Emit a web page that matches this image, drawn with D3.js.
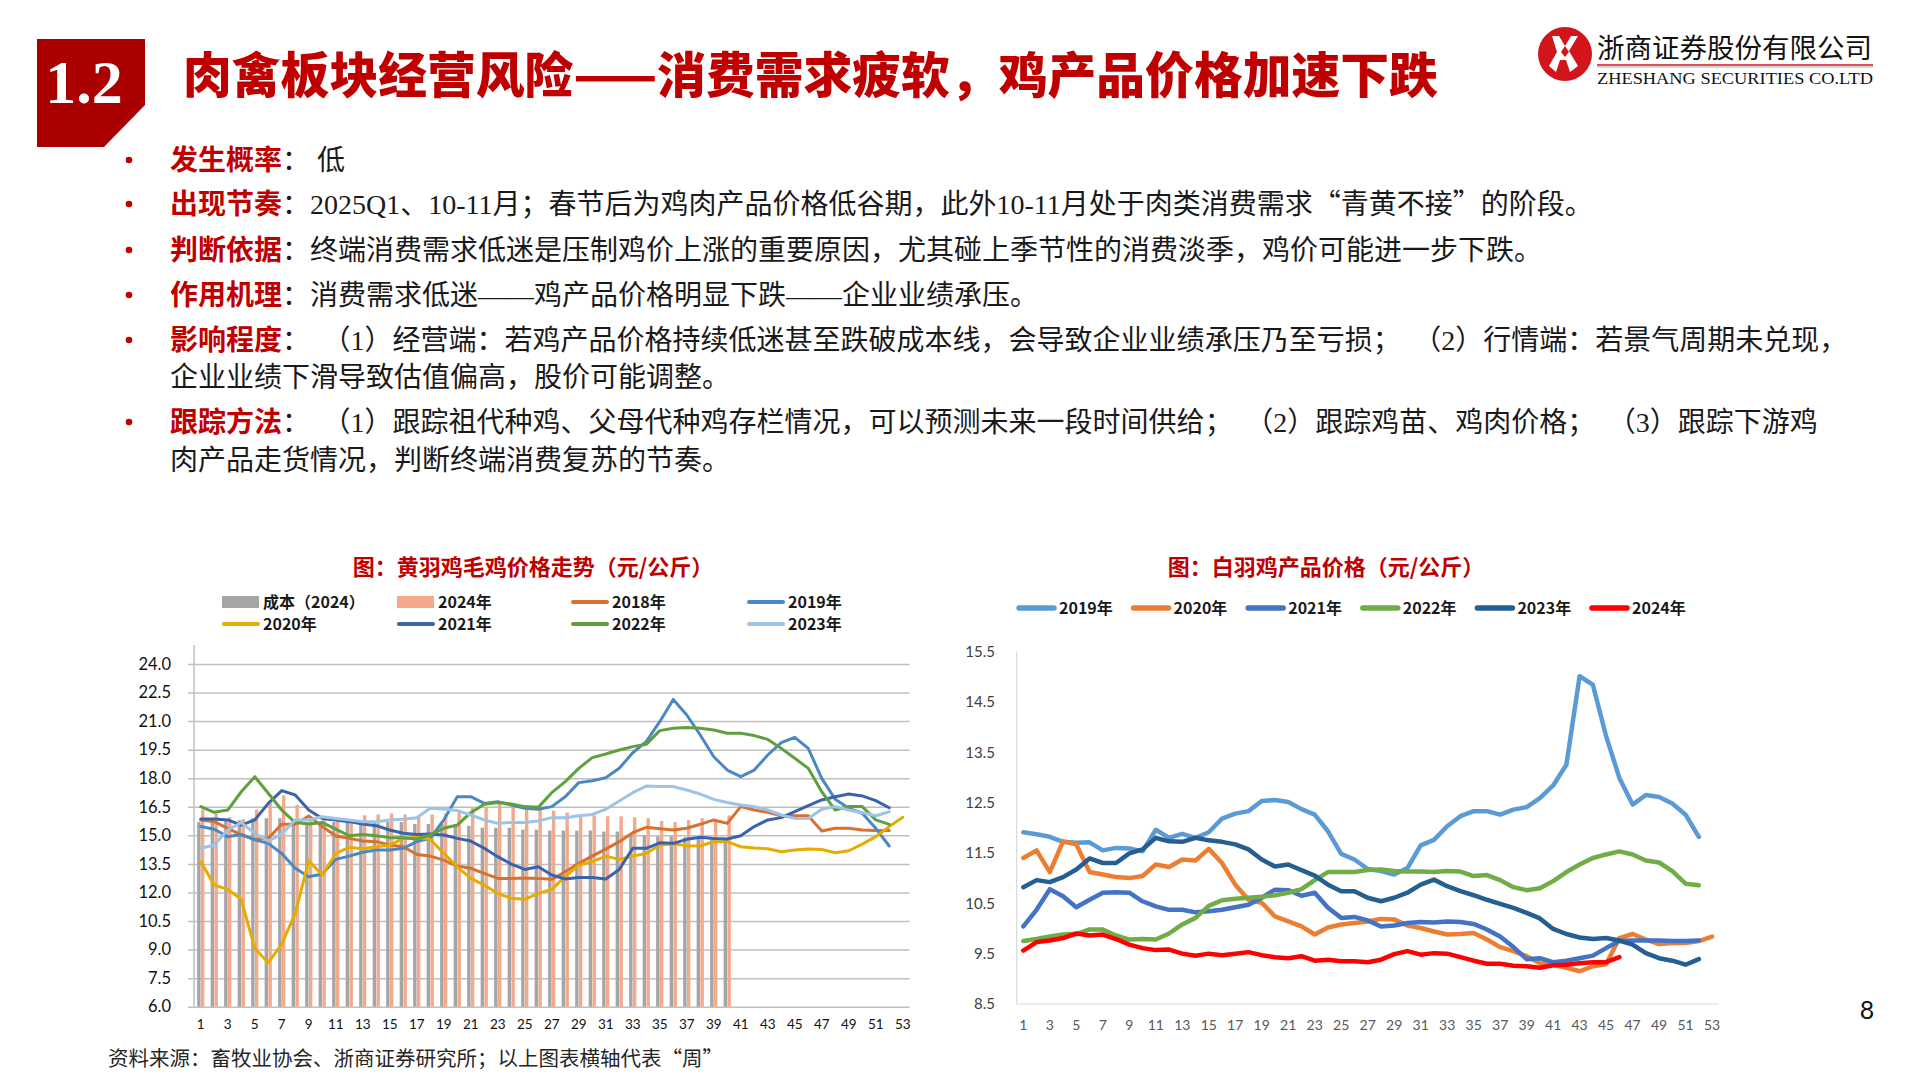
<!DOCTYPE html>
<html><head><meta charset="utf-8">
<script src="https://cdn.jsdelivr.net/npm/d3@7"></script>
<style>
html,body{margin:0;padding:0;background:#fff;}
svg{display:block;}
</style></head>
<body>
<svg id="slide" width="1920" height="1080"></svg>
<script>
// ---------- DATA ----------
const weeks = [1,2,3,4,5,6,7,8,9,10,11,12,13,14,15,16,17,18,19,20,21,22,23,24,25,26,27,28,29,30,31,32,33,34,35,36,37,38,39,40,41,42,43,44,45,46,47,48,49,50,51,52,53];
const weekTickLabels = [1,3,5,7,9,11,13,15,17,19,21,23,25,27,29,31,33,35,37,39,41,43,45,47,49,51,53];

// Left chart: 黄羽鸡毛鸡价格走势
const leftYTicks = [6.0,7.5,9.0,10.5,12.0,13.5,15.0,16.5,18.0,19.5,21.0,22.5,24.0];
const cost2024 = [15.7,15.7,15.8,15.8,15.9,15.9,15.9,15.8,15.7,15.7,15.7,15.7,15.7,15.7,15.7,15.7,15.6,15.6,15.6,15.5,15.5,15.4,15.4,15.4,15.3,15.3,15.25,15.25,15.25,15.25,15.2,15.2,15.0,15.0,14.95,14.95,14.9,14.9,14.8,14.75];
const price2024 = [16.35,16.15,15.95,15.85,16.35,16.7,17.1,16.6,16.0,15.9,15.85,15.85,16.05,16.1,16.15,16.1,16.0,16.1,16.15,16.3,16.45,16.5,16.65,16.55,16.4,16.4,16.3,16.2,16.1,16.05,16.0,16.0,15.95,15.9,15.75,15.7,15.8,15.9,15.8,16.05];
const yellow2018 = [15.8,15.72,15.37,15.02,14.79,14.84,15.58,15.58,16.02,15.46,14.97,14.84,14.7,14.67,14.49,14.4,14.0,13.91,13.7,13.39,13.27,13.0,12.74,12.74,12.76,12.74,12.69,13.09,13.53,13.91,14.28,14.67,15.14,15.42,15.35,15.28,15.37,15.58,15.81,15.63,16.51,16.33,16.21,16.03,16.03,16.03,15.23,15.37,15.37,15.28,15.25,15.25];
const yellow2019 = [15.46,15.32,14.93,15.05,14.76,14.58,14.05,13.27,12.83,12.97,13.74,13.91,14.11,14.23,14.23,14.32,14.67,14.84,15.81,17.03,17.03,16.68,16.77,16.59,16.42,16.37,16.51,17.03,17.77,17.87,18.03,18.52,19.34,19.92,20.97,22.14,21.32,20.27,19.13,18.43,18.08,18.43,19.22,19.87,20.15,19.57,17.99,16.89,16.42,16.16,15.37,14.44];
const yellow2020 = [13.62,12.39,12.16,11.64,9.06,8.31,9.29,10.9,13.67,12.92,14.05,14.37,14.3,14.4,14.49,14.84,14.9,14.8,14.05,13.35,12.74,12.39,11.95,11.69,11.64,11.95,12.16,12.83,13.44,13.62,13.91,13.74,13.91,14.05,14.49,14.54,14.46,14.44,14.67,14.67,14.4,14.33,14.3,14.14,14.23,14.28,14.26,14.09,14.19,14.54,14.93,15.46,15.95];
const yellow2021 = [15.86,15.86,15.81,15.54,15.81,16.68,17.35,17.12,16.33,15.89,15.81,15.72,15.6,15.51,15.28,15.11,15.05,15.07,15.02,14.84,14.7,14.32,13.88,13.49,13.21,13.35,12.92,12.71,12.79,12.79,12.71,13.21,14.32,14.32,14.61,14.58,14.79,14.9,14.84,14.81,14.98,15.46,15.81,15.93,16.24,16.56,16.86,17.03,17.17,17.07,16.82,16.45];
const yellow2022 = [16.51,16.21,16.33,17.29,18.08,17.21,16.33,15.67,15.6,15.67,15.33,14.98,15.05,14.98,14.88,14.88,14.81,15.02,15.37,15.54,16.19,16.63,16.73,16.65,16.51,16.47,17.24,17.82,18.52,19.08,19.27,19.48,19.66,19.78,20.5,20.62,20.67,20.62,20.53,20.36,20.36,20.24,20.04,19.57,19.05,18.52,17.29,16.33,16.51,16.51,15.81,15.58];
const yellow2023 = [14.32,14.49,15.28,15.67,15.11,14.7,15.07,15.81,15.81,15.98,15.89,15.81,15.72,15.72,15.81,15.84,15.93,16.42,16.38,16.3,16.07,15.81,15.63,15.68,15.68,15.75,15.93,15.93,16.03,16.1,16.37,16.8,17.24,17.59,17.56,17.56,17.38,17.17,16.89,16.73,16.59,16.51,16.33,16.07,15.89,15.89,16.37,16.51,16.33,16.19,16.03,16.24];

// Right chart: 白羽鸡产品价格
const rightYTicks = [8.5,9.5,10.5,11.5,12.5,13.5,14.5,15.5];
const white2019 = [11.91,11.87,11.82,11.72,11.7,11.71,11.55,11.6,11.59,11.53,11.96,11.8,11.88,11.8,11.91,12.18,12.28,12.33,12.53,12.55,12.51,12.37,12.26,11.93,11.48,11.37,11.18,11.14,11.07,11.2,11.65,11.76,12.03,12.23,12.33,12.33,12.26,12.36,12.41,12.59,12.84,13.25,15.01,14.84,13.82,12.99,12.46,12.65,12.61,12.48,12.26,11.82];
const white2020 = [11.4,11.55,11.12,11.73,11.67,11.12,11.07,11.02,11.0,11.04,11.27,11.22,11.37,11.35,11.58,11.3,10.87,10.57,10.51,10.24,10.14,10.04,9.88,10.02,10.08,10.11,10.14,10.19,10.18,10.06,10.01,9.94,9.88,9.89,9.91,9.78,9.63,9.55,9.45,9.31,9.28,9.22,9.15,9.25,9.29,9.81,9.89,9.78,9.69,9.71,9.71,9.75,9.84];
const white2021 = [10.04,10.37,10.78,10.64,10.42,10.57,10.71,10.72,10.71,10.54,10.44,10.37,10.37,10.32,10.34,10.37,10.42,10.47,10.61,10.77,10.76,10.65,10.71,10.41,10.21,10.23,10.16,10.04,10.06,10.11,10.13,10.12,10.14,10.13,10.09,9.98,9.84,9.63,9.39,9.41,9.33,9.36,9.41,9.46,9.61,9.75,9.76,9.76,9.76,9.75,9.75,9.76];
const white2022 = [9.75,9.79,9.84,9.88,9.89,9.98,9.98,9.86,9.78,9.79,9.78,9.9,10.08,10.21,10.45,10.56,10.59,10.61,10.63,10.66,10.71,10.78,10.96,11.12,11.12,11.12,11.16,11.17,11.14,11.13,11.13,11.12,11.14,11.13,11.04,11.06,10.96,10.82,10.76,10.8,10.94,11.12,11.27,11.4,11.47,11.53,11.47,11.35,11.31,11.14,10.89,10.86];
const white2023 = [10.82,10.96,10.92,11.02,11.17,11.39,11.3,11.3,11.49,11.57,11.8,11.73,11.72,11.8,11.75,11.72,11.67,11.57,11.37,11.23,11.27,11.16,11.05,10.87,10.74,10.74,10.61,10.54,10.61,10.71,10.87,10.97,10.84,10.74,10.66,10.57,10.49,10.41,10.31,10.2,9.99,9.89,9.82,9.79,9.81,9.76,9.68,9.51,9.41,9.36,9.28,9.39];
const white2024 = [9.56,9.73,9.76,9.81,9.9,9.86,9.88,9.79,9.68,9.61,9.57,9.58,9.5,9.46,9.5,9.47,9.5,9.53,9.47,9.43,9.41,9.45,9.36,9.38,9.35,9.35,9.33,9.38,9.49,9.55,9.48,9.51,9.5,9.43,9.36,9.3,9.3,9.26,9.25,9.22,9.27,9.28,9.31,9.33,9.33,9.43];

// ---------- TEXT ----------
const slideTitle = "肉禽板块经营风险——消费需求疲软，鸡产品价格加速下跌";
const SP = "\u00A0\u2009";
// each line: array of [text, useCJKFont]
const bullets = [
  {label:"发生概率", lines:[[["： 低",false]]]},
  {label:"出现节奏", lines:[[["：2025Q1、10-11月；春节后为鸡肉产品价格低谷期，此外10-11月处于肉类消费需求",false],["“",true],["青黄不接",false],["”",true],["的阶段。",false]]]},
  {label:"判断依据", lines:[[["：终端消费需求低迷是压制鸡价上涨的重要原因，尤其碰上季节性的消费淡季，鸡价可能进一步下跌。",false]]]},
  {label:"作用机理", lines:[[["：消费需求低迷——鸡产品价格明显下跌——企业业绩承压。",false]]]},
  {label:"影响程度", lines:[[["："+SP+"（1）经营端：若鸡产品价格持续低迷甚至跌破成本线，会导致企业业绩承压乃至亏损；"+SP+"（2）行情端：若景气周期未兑现，",false]],[["企业业绩下滑导致估值偏高，股价可能调整。",false]]]},
  {label:"跟踪方法", lines:[[["："+SP+"（1）跟踪祖代种鸡、父母代种鸡存栏情况，可以预测未来一段时间供给；"+SP+"（2）跟踪鸡苗、鸡肉价格；"+SP+"（3）跟踪下游鸡",false]],[["肉产品走货情况，判断终端消费复苏的节奏。",false]]]}
];

const svg = d3.select("#slide");
const CJK = "'Noto Sans CJK SC','Noto Sans',sans-serif";
const RED = "#C00000";

// ---------- HEADER ----------
svg.append("path")
  .attr("d","M37,39 L145,39 L145,105 L104,147 L37,147 Z")
  .attr("fill","#AA0000");
svg.append("text").attr("x",84).attr("y",103).attr("text-anchor","middle")
  .attr("font-family","'Liberation Serif',serif").attr("font-weight","bold")
  .attr("font-size",62).attr("fill","#fff").text("1.2");
svg.append("text").attr("x",183).attr("y",93)
  .attr("font-family",CJK).attr("font-weight",900).attr("font-size",48.8)
  .attr("fill",RED).text(slideTitle);

// logo
const logo = svg.append("g");
logo.append("circle").attr("cx",1565).attr("cy",54).attr("r",27).attr("fill","#D2151B");
logo.append("path").attr("d","M1552,36 L1559,36 L1565,46 L1571,36 L1578,36 L1569,51 L1578,66 L1570,72 L1566,60 L1560,60 L1556,72 L1549,66 L1557,52 Z")
  .attr("fill","#fff");
logo.append("path").attr("d","M1561,52 L1565,46 L1569,52 L1565,57 Z").attr("fill","#D2151B");
logo.append("text").attr("x",1597).attr("y",58).attr("font-family",CJK).attr("font-size",27)
  .attr("fill","#111").attr("textLength",275).attr("lengthAdjust","spacingAndGlyphs").text("浙商证券股份有限公司");
logo.append("line").attr("x1",1597).attr("x2",1873).attr("y1",65).attr("y2",65).attr("stroke","#C8161D").attr("stroke-width",1.6);
logo.append("line").attr("x1",1597).attr("x2",1873).attr("y1",67).attr("y2",67).attr("stroke","#999").attr("stroke-width",0.8);
logo.append("text").attr("x",1597).attr("y",84).attr("font-family","'Liberation Serif',serif").attr("font-size",17)
  .attr("fill","#111").attr("textLength",276).attr("lengthAdjust","spacingAndGlyphs").text("ZHESHANG SECURITIES CO.LTD");

// ---------- BULLETS ----------
const lineYs = [[170],[214],[260],[305],[350,387],[432,470]];
const bodyFont = "'Liberation Serif','Noto Sans CJK SC',serif";
bullets.forEach((b,i)=>{
  const y0 = lineYs[i][0];
  svg.append("circle").attr("cx",129).attr("cy",y0-10).attr("r",3.3).attr("fill",RED);
  b.lines.forEach((ln,j)=>{
    const t = svg.append("text").attr("x",170).attr("y",lineYs[i][j])
      .attr("font-size",28).attr("fill","#1a1a1a").attr("font-family",bodyFont)
      .style("white-space","pre");
    if(j===0){
      t.append("tspan").attr("font-family",CJK).attr("font-weight","bold").attr("fill",RED).text(b.label);
    }
    ln.forEach(seg=>{
      const ts = t.append("tspan").text(seg[0]);
      if(seg[1]) ts.attr("font-family",CJK);
    });
  });
});

// ---------- LEFT CHART ----------
const L = {left:194, right:909.5, top:664, bottom:1006.7};
const xL = d3.scaleBand().domain(weeks).range([L.left,L.right]).paddingInner(0).paddingOuter(0);
const yL = d3.scaleLinear().domain([6,24]).range([L.bottom,L.top]);

svg.append("text").attr("x",533).attr("y",575).attr("text-anchor","middle")
  .attr("font-family",CJK).attr("font-weight","bold").attr("font-size",22).attr("fill",RED)
  .text("图：黄羽鸡毛鸡价格走势（元/公斤）");

// gridlines
const gridL = svg.append("g").attr("transform",`translate(${L.left},0)`)
  .call(d3.axisLeft(yL).tickValues(leftYTicks).tickSize(-(L.right-L.left)).tickFormat(""));
gridL.select(".domain").remove();
gridL.selectAll(".tick line").attr("stroke","#BFBFBF").attr("stroke-width",1.5).attr("x1",-6);

// bars
const sub = d3.scaleBand().domain(["cost","price"]).range([-3.6,3.6]);
const barG = svg.append("g");
barG.selectAll("rect.cost").data(cost2024).join("rect").attr("class","cost")
  .attr("x",(d,i)=>xL(weeks[i])+xL.bandwidth()/2+sub("cost"))
  .attr("width",sub.bandwidth()-0.2)
  .attr("y",d=>yL(d)).attr("height",d=>yL(6)-yL(d)).attr("fill","#A5A5A5");
barG.selectAll("rect.price").data(price2024).join("rect").attr("class","price")
  .attr("x",(d,i)=>xL(weeks[i])+xL.bandwidth()/2+sub("price")+0.2)
  .attr("width",sub.bandwidth()-0.2)
  .attr("y",d=>yL(d)).attr("height",d=>yL(6)-yL(d)).attr("fill","#F2A98C");

// y axis line
svg.append("line").attr("x1",L.left).attr("x2",L.left).attr("y1",645).attr("y2",L.bottom)
  .attr("stroke","#BFBFBF").attr("stroke-width",1.5);

const leftSeries = [
  {name:"2018年", data:yellow2018, color:"#D9702F"},
  {name:"2019年", data:yellow2019, color:"#4B88C2"},
  {name:"2020年", data:yellow2020, color:"#E6AC00"},
  {name:"2021年", data:yellow2021, color:"#3A63AC"},
  {name:"2022年", data:yellow2022, color:"#5FA03E"},
  {name:"2023年", data:yellow2023, color:"#9DC3E6"}
];
const lineL = d3.line().x((d,i)=>xL(weeks[i])+xL.bandwidth()/2).y(d=>yL(d));
leftSeries.forEach(s=>{
  svg.append("path").datum(s.data).attr("d",lineL).attr("fill","none")
    .attr("stroke",s.color).attr("stroke-width",3).attr("stroke-linejoin","round").attr("stroke-linecap","round");
});

// axes labels
const yAxL = svg.append("g").attr("transform",`translate(${L.left-23},0)`)
  .call(d3.axisLeft(yL).tickValues(leftYTicks).tickSize(0).tickPadding(0).tickFormat(d3.format(".1f")));
yAxL.select(".domain").remove();
yAxL.selectAll("text").attr("font-family","Lato,'Open Sans',sans-serif").attr("font-size",16.5).attr("fill","#111");
const xAxL = svg.append("g").attr("transform",`translate(0,${1019})`)
  .call(d3.axisBottom(xL).tickValues(weekTickLabels).tickSize(0).tickPadding(0));
xAxL.select(".domain").remove();
xAxL.selectAll("text").attr("font-family","Lato,'Open Sans',sans-serif").attr("font-size",13.5).attr("fill","#111");

// legend
const legL = [
  {name:"成本（2024）", type:"bar", color:"#A5A5A5", x:222, y:602},
  {name:"2024年", type:"bar", color:"#F2A98C", x:397, y:602},
  {name:"2018年", type:"line", color:"#D9702F", x:571, y:602},
  {name:"2019年", type:"line", color:"#4B88C2", x:747, y:602},
  {name:"2020年", type:"line", color:"#E6AC00", x:222, y:624},
  {name:"2021年", type:"line", color:"#3A63AC", x:397, y:624},
  {name:"2022年", type:"line", color:"#5FA03E", x:571, y:624},
  {name:"2023年", type:"line", color:"#9DC3E6", x:747, y:624}
];
legL.forEach(d=>{
  if(d.type==="bar") svg.append("rect").attr("x",d.x).attr("y",d.y-6).attr("width",37).attr("height",12).attr("fill",d.color);
  else svg.append("line").attr("x1",d.x+2).attr("x2",d.x+36).attr("y1",d.y).attr("y2",d.y)
    .attr("stroke",d.color).attr("stroke-width",4).attr("stroke-linecap","round");
  svg.append("text").attr("x",d.x+41).attr("y",d.y+6).attr("font-family",CJK).attr("font-weight","bold")
    .attr("font-size",16).attr("fill","#1a1a1a").text(d.name);
});

// ---------- RIGHT CHART ----------
const R = {left:1016.7, right:1718.7, top:651.5, bottom:1004};
const xR = d3.scaleBand().domain(weeks).range([R.left,R.right]);
const yR = d3.scaleLinear().domain([8.5,15.5]).range([R.bottom,R.top]);

svg.append("text").attr("x",1326).attr("y",575).attr("text-anchor","middle")
  .attr("font-family",CJK).attr("font-weight","bold").attr("font-size",22).attr("fill",RED)
  .text("图：白羽鸡产品价格（元/公斤）");

svg.append("line").attr("x1",R.left).attr("x2",R.left).attr("y1",R.top).attr("y2",R.bottom).attr("stroke","#D9D9D9").attr("stroke-width",1.2);
svg.append("line").attr("x1",R.left).attr("x2",R.right).attr("y1",R.bottom).attr("y2",R.bottom).attr("stroke","#D9D9D9").attr("stroke-width",1.2);

const rightSeries = [
  {name:"2019年", data:white2019, color:"#5B9BD5"},
  {name:"2020年", data:white2020, color:"#ED7D31"},
  {name:"2021年", data:white2021, color:"#4472C4"},
  {name:"2022年", data:white2022, color:"#70AD47"},
  {name:"2023年", data:white2023, color:"#255E91"},
  {name:"2024年", data:white2024, color:"#FF0000"}
];
const lineR = d3.line().x((d,i)=>xR(weeks[i])+xR.bandwidth()/2).y(d=>yR(d));
rightSeries.forEach(s=>{
  svg.append("path").datum(s.data).attr("d",lineR).attr("fill","none")
    .attr("stroke",s.color).attr("stroke-width",4.5).attr("stroke-linejoin","round").attr("stroke-linecap","round");
});

const yAxR = svg.append("g").attr("transform",`translate(995,0)`)
  .call(d3.axisLeft(yR).tickValues(rightYTicks).tickSize(0).tickPadding(0).tickFormat(d3.format(".1f")));
yAxR.select(".domain").remove();
yAxR.selectAll("text").attr("font-family","Lato,'Open Sans',sans-serif").attr("font-size",15).attr("fill","#404040");
const xAxR = svg.append("g").attr("transform",`translate(0,1020)`)
  .call(d3.axisBottom(xR).tickValues(weekTickLabels).tickSize(0).tickPadding(0));
xAxR.select(".domain").remove();
xAxR.selectAll("text").attr("font-family","Lato,'Open Sans',sans-serif").attr("font-size",14).attr("fill","#595959");

rightSeries.forEach((s,i)=>{
  const x = 1016 + i*114.6;
  svg.append("line").attr("x1",x+3).attr("x2",x+38).attr("y1",608).attr("y2",608)
    .attr("stroke",s.color).attr("stroke-width",5.5).attr("stroke-linecap","round");
  svg.append("text").attr("x",x+43).attr("y",614).attr("font-family",CJK).attr("font-weight","bold")
    .attr("font-size",16).attr("fill","#1a1a1a").text(s.name);
});

// ---------- FOOTER ----------
svg.append("text").attr("x",108).attr("y",1066).attr("font-family",CJK).attr("font-size",20.5)
  .attr("fill","#262626").text("资料来源：畜牧业协会、浙商证券研究所；以上图表横轴代表“周”");
svg.append("text").attr("x",1867).attr("y",1019).attr("text-anchor","middle").attr("font-family","Lato,sans-serif")
  .attr("font-size",25).attr("fill","#111").text("8");
</script>
</body></html>
